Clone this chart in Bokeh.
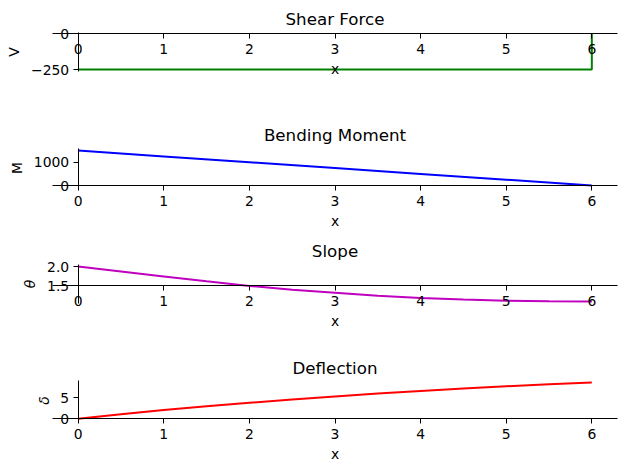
from bokeh.plotting import figure
from bokeh.layouts import column
from bokeh.models import Range1d, FixedTicker, Label, PrintfTickFormatter
from bokeh.embed import file_html
from bokeh.resources import INLINE

# ---- data ----
x_shear = [0, 1, 2, 3, 4, 5, 6, 6]
shear = [-250, -250, -250, -250, -250, -250, -250, 0]

x_mom = [0, 1, 2, 3, 4, 5, 6]
moment = [1500, 1250, 1000, 750, 500, 250, 0]

x_half = [0, 0.5, 1, 1.5, 2, 2.5, 3, 3.5, 4, 4.5, 5, 5.5, 6]
slope = [2.0, 1.87, 1.74, 1.61, 1.49, 1.39, 1.31, 1.23, 1.17, 1.13, 1.10, 1.085, 1.08]
deflection = [0, 1.05, 2.1, 3.0, 3.8, 4.6, 5.3, 6.0, 6.6, 7.2, 7.7, 8.2, 8.6]

titles = ["Shear Force", "Bending Moment", "Slope", "Deflection"]
ylabels = ["V", "M", "\u03b8", "\u03b4"]
x_ticks = [0, 1, 2, 3, 4, 5, 6]
shear_ticks = [-250, 0]
moment_ticks = [0, 1000]
slope_ticks = [1.5, 2.0]
defl_ticks = [0, 5]

# ---- layout (pixels) ----
FIG_W = 626
AX_LEFT, AX_RIGHT = 52, 617
FONT = "DejaVu Sans"

panels = [
    dict(x=x_shear, y=shear, color="#008000", yticks=shear_ticks, xaxis_at=0,
         h=117, ft=31.7, fb=70.8, tb=18.5, fmt=None, ystyle="normal",
         overrides={-250: "\u2212250"}),
    dict(x=x_mom, y=moment, color="#0000ff", yticks=moment_ticks, xaxis_at=0,
         h=116, ft=31.3, fb=69.8, tb=17.0, fmt=None, ystyle="normal", overrides={}),
    dict(x=x_half, y=slope, color="#bf00bf", yticks=slope_ticks, xaxis_at=1.5,
         h=117, ft=31.3, fb=69.7, tb=17.0, fmt="%.1f", ystyle="italic", overrides={}),
    dict(x=x_half, y=deflection, color="#ff0000", yticks=defl_ticks, xaxis_at=0,
         h=121, ft=30.2, fb=70.1, tb=17.0, fmt=None, ystyle="italic", overrides={}),
]

figs = []
for i, pn in enumerate(panels):
    xlo, xhi = min(pn["x"]), max(pn["x"])
    xm = (xhi - xlo) * 0.05
    xlo, xhi = xlo - xm, xhi + xm
    sx = (AX_RIGHT - AX_LEFT) / (xhi - xlo)
    ylo, yhi = min(pn["y"]), max(pn["y"])
    ym = (yhi - ylo) * 0.05
    ylo, yhi = ylo - ym, yhi + ym
    h = pn["h"]
    sy = (pn["fb"] - pn["ft"]) / (yhi - ylo)
    y_end = yhi + pn["ft"] / sy
    p = figure(width=FIG_W, height=h,
               x_range=Range1d(xlo - AX_LEFT / sx, xhi + (FIG_W - AX_RIGHT) / sx),
               y_range=Range1d(ylo - (h - pn["fb"]) / sy, y_end),
               output_backend="svg", toolbar_location=None,
               min_border_left=0, min_border_right=0,
               min_border_top=0, min_border_bottom=0)
    p.outline_line_color = None
    p.grid.visible = False
    p.background_fill_color = "white"
    p.border_fill_color = "white"

    p.line(pn["x"], pn["y"], line_color=pn["color"], line_width=2)

    p.add_layout(Label(x=(xlo + xhi) / 2, y=y_end - pn["tb"] / sy,
                       text=titles[i], text_align="center",
                       text_baseline="alphabetic", text_font=FONT,
                       text_font_size="16.7px", text_color="black"))

    xa = p.xaxis[0]
    xa.fixed_location = pn["xaxis_at"]
    xa.bounds = (xlo, xhi)
    xa.ticker = FixedTicker(ticks=x_ticks)
    xa.axis_label = "x"
    xa.major_tick_out = 5
    xa.major_label_standoff = 5
    xa.axis_label_standoff = 4
    ya = p.yaxis[0]
    ya.fixed_location = 0
    ya.bounds = (ylo, yhi)
    ya.ticker = FixedTicker(ticks=pn["yticks"])
    ya.axis_label = ylabels[i]
    ya.major_tick_out = 5
    ya.major_label_standoff = 4
    ya.axis_label_standoff = 6
    if pn["fmt"] is not None:
        ya.formatter = PrintfTickFormatter(format=pn["fmt"])
    if pn["overrides"]:
        ya.major_label_overrides = pn["overrides"]
    for ax in (xa, ya):
        ax.minor_tick_line_color = None
        ax.major_tick_in = 0
        ax.axis_line_color = "black"
        ax.axis_line_width = 1
        ax.major_tick_line_color = "black"
        ax.major_label_text_font = FONT
        ax.major_label_text_font_size = "13.9px"
        ax.major_label_text_color = "black"
        ax.axis_label_text_font = FONT
        ax.axis_label_text_font_size = "13.9px"
        ax.axis_label_text_color = "black"
    xa.axis_label_text_font_style = "normal"
    ya.axis_label_text_font_style = pn["ystyle"]
    figs.append(p)

layout = column(*figs, spacing=0)
open("out.html", "w").write(file_html(layout, INLINE))
